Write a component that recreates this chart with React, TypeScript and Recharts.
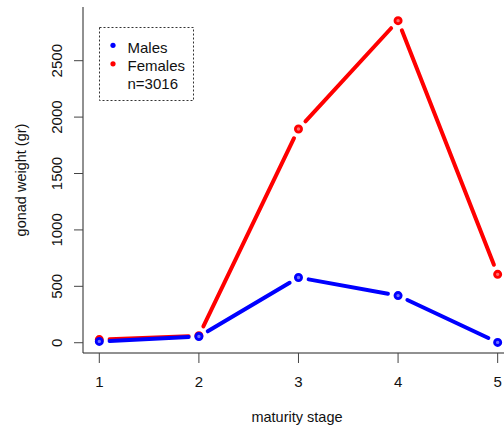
import React from 'react';
import { LineChart, Line, XAxis, YAxis } from 'recharts';

const stages = [1, 2, 3, 4, 5];
const males = [12, 55, 578, 418, 3];
const females = [28, 62, 1895, 2855, 606];
const yTicks = [0, 500, 1000, 1500, 2000, 2500];
const xTicks = [1, 2, 3, 4, 5];
const legendItems = [
  { label: 'Males', color: '#0000FF' },
  { label: 'Females', color: '#FF0000' },
];
const legendNote = 'n=3016';

const data = stages.map((s, i) => ({
  stage: s,
  males: males[i],
  females: females[i],
  malesPt: males[i],
  femalesPt: females[i],
}));

const FONT = '"Liberation Sans", Arial, Helvetica, sans-serif';
const TXT = '#111';

const makeSeg = (color: string) => (props: any) => {
  const { points, index, cx, cy, dataKey } = props;
  const k = `s-${dataKey}-${index}`;
  if (!points || index >= points.length - 1) return <g key={k} />;
  const nx = points[index + 1].x;
  const ny = points[index + 1].y;
  const dx = nx - cx;
  const dy = ny - cy;
  const len = Math.sqrt(dx * dx + dy * dy);
  const gap = 10.3;
  if (len < 2 * gap) return <g key={k} />;
  const ux = dx / len;
  const uy = dy / len;
  return (
    <line
      key={k}
      x1={cx + ux * gap}
      y1={cy + uy * gap}
      x2={nx - ux * gap}
      y2={ny - uy * gap}
      stroke={color}
      strokeWidth={4}
      strokeLinecap="round"
    />
  );
};

const makeDot = (color: string, center: string) => (props: any) => (
  <circle
    key={`d-${props.dataKey}-${props.index}`}
    cx={props.cx}
    cy={props.cy}
    r={3.1}
    fill={center}
    stroke={color}
    strokeWidth={2.8}
  />
);

const YTick = (p: any) => (
  <text
    transform={`translate(62, ${p.y}) rotate(-90)`}
    textAnchor="middle"
    fontSize={15}
    fontFamily={FONT}
    fill={TXT}
  >
    {p.payload.value}
  </text>
);

export default function App() {
  return (
    <div style={{ position: 'fixed', left: 0, top: 0, width: 504, height: 428, overflow: 'hidden', background: '#fff' }}>
      <LineChart width={520} height={428} data={data} margin={{ top: 7, right: 6.4, left: 0, bottom: 0 }}>
        <XAxis
          xAxisId="top"
          orientation="top"
          dataKey="stage"
          type="number"
          domain={[0.8363, 5.16]}
          allowDataOverflow
          height={0}
          tick={false}
          tickLine={false}
          axisLine={{ stroke: '#222', strokeWidth: 1 }}
        />
        <XAxis
          dataKey="stage"
          type="number"
          domain={[0.8363, 5.16]}
          allowDataOverflow
          ticks={xTicks}
          height={75}
          tickSize={10}
          tickMargin={13}
          tickLine={{ stroke: '#444' }}
          axisLine={{ stroke: '#222', strokeWidth: 1 }}
          tick={{ fontSize: 15, fontFamily: FONT, fill: TXT }}
          label={{
            content: () => (
              <text x={297} y={422} textAnchor="middle" fontSize={14.5} fontFamily={FONT} fill={TXT}>
                maturity stage
              </text>
            ),
          }}
        />
        <YAxis
          type="number"
          domain={[-91, 2976]}
          allowDataOverflow
          ticks={yTicks}
          width={83}
          tickSize={9}
          tickLine={{ stroke: '#444' }}
          axisLine={{ stroke: '#222', strokeWidth: 1 }}
          tick={<YTick />}
          label={{
            content: () => (
              <text
                transform="translate(26, 180) rotate(-90)"
                textAnchor="middle"
                fontSize={14.5}
                fontFamily={FONT}
                fill={TXT}
              >
                gonad weight (gr)
              </text>
            ),
          }}
        />
        <Line dataKey="females" stroke="none" dot={makeSeg('#FF0000')} activeDot={false} isAnimationActive={false} />
        <Line dataKey="males" stroke="none" dot={makeSeg('#0000FF')} activeDot={false} isAnimationActive={false} />
        <Line dataKey="femalesPt" stroke="none" dot={makeDot('#FF0000', '#ff7070')} activeDot={false} isAnimationActive={false} />
        <Line dataKey="malesPt" stroke="none" dot={makeDot('#0000FF', '#7070ff')} activeDot={false} isAnimationActive={false} />
      </LineChart>
      <svg width={504} height={428} style={{ position: 'absolute', left: 0, top: 0, pointerEvents: 'none' }}>
        <rect x={99.5} y={27.5} width={94} height={73} fill="none" stroke="#333" strokeWidth={1} strokeDasharray="2 2" />
        {legendItems.map((it, i) => (
          <g key={it.label}>
            <circle cx={113} cy={45.3 + i * 18.5} r={2.6} fill={it.color} />
            <text x={127.5} y={52.7 + i * 18.3} fontSize={15} fontFamily={FONT} fill={TXT}>
              {it.label}
            </text>
          </g>
        ))}
        <text x={127.5} y={89.3} fontSize={15} fontFamily={FONT} fill={TXT}>
          {legendNote}
        </text>
      </svg>
    </div>
  );
}
